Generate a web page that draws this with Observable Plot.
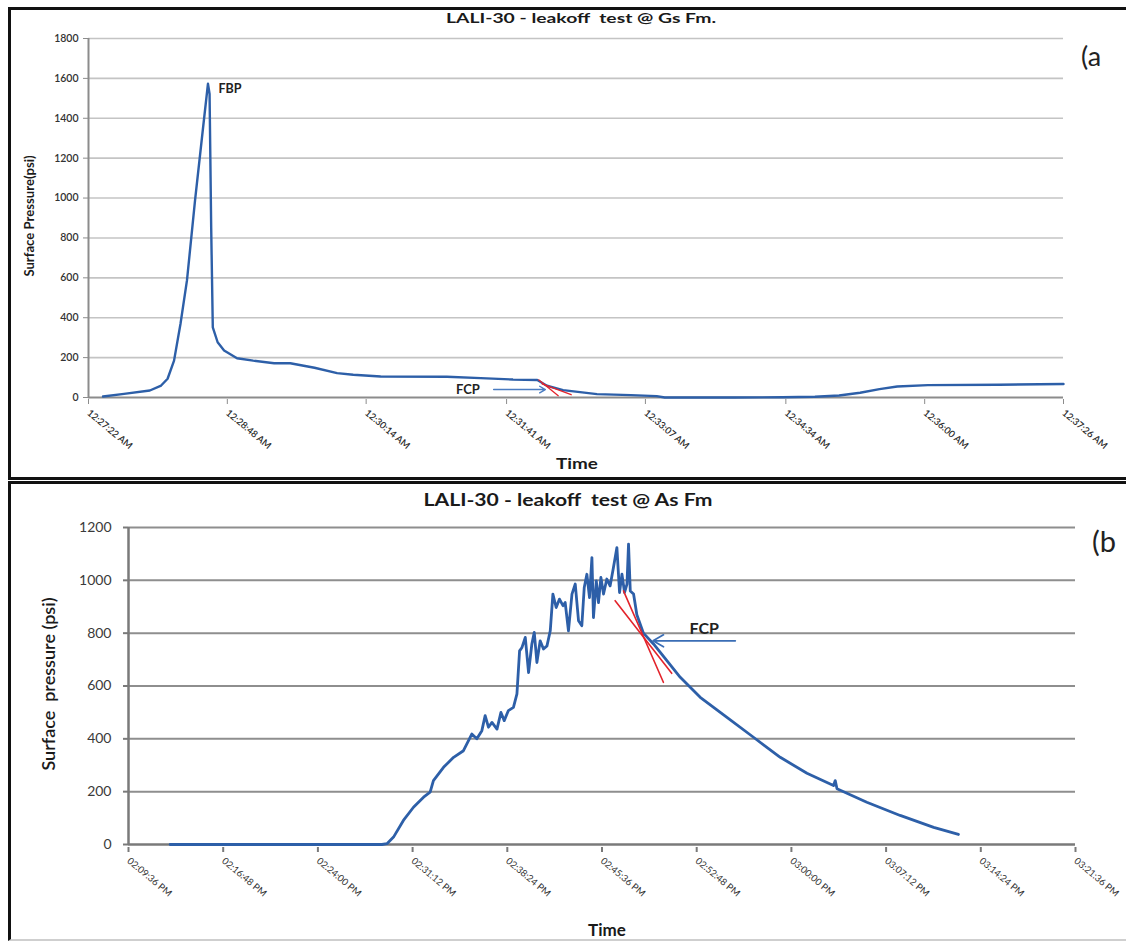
<!DOCTYPE html>
<html>
<head>
<meta charset="utf-8">
<script src="https://cdn.jsdelivr.net/npm/d3@7"></script>
<script src="https://cdn.jsdelivr.net/npm/@observablehq/plot@0.6"></script>
<style>
  html, body { margin: 0; padding: 0; background: #fff; }
  #page { position: relative; width: 1126px; height: 941px; overflow: hidden; background: #fff; font-family: Lato, "Open Sans", sans-serif; }
  .svgwrap { position: absolute; left: 0; }
  .frame { position: absolute; box-sizing: border-box; pointer-events: none; }
  .t { position: absolute; white-space: pre; transform: translate(-50%, -50%); color: #111; line-height: 1; }
</style>
</head>
<body>
<div id="page">
  <div class="svgwrap" id="chartA" style="top:0px"></div>
  <div class="svgwrap" id="chartB" style="top:482px"></div>
  <div class="frame" style="left:8px; top:7px; width:1130px; height:473px; border-top:3px solid #111; border-left:3px solid #111; border-bottom:3px solid #111;"></div>
  <div class="frame" style="left:8px; top:481px; width:1130px; height:460px; border-top:3px solid #111; border-left:3px solid #111; border-bottom:2px solid #cfcfcf;"></div>

  <div class="t" style="left:581px; top:18px; font-size:14px; font-weight:700; color:#1a1a1a; transform:translate(-50%,-50%) scaleX(1.38);">LALI-30 - leakoff  test @ Gs Fm.</div>
  <div class="t" style="left:1091px; top:55px; font-size:27px; font-weight:400; color:#222;">(a</div>
  <div class="t" style="left:30px; top:216px; font-size:12.5px; font-weight:700; transform:translate(-50%,-50%) rotate(-90deg) scaleX(1.05); color:#1a1a1a;">Surface Pressure(psi)</div>
  <div class="t" style="left:577px; top:464px; font-size:14.5px; font-weight:700; color:#1a1a1a; transform:translate(-50%,-50%) scaleX(1.3);">Time</div>

  <div class="t" style="left:568px; top:500px; font-size:16.5px; font-weight:700; color:#1a1a1a; transform:translate(-50%,-50%) scaleX(1.28);">LALI-30 - leakoff  test @ As Fm</div>
  <div class="t" style="left:1104px; top:540px; font-size:29px; font-weight:400; color:#222;">(b</div>
  <div class="t" style="left:48px; top:684px; font-size:18px; font-weight:600; transform:translate(-50%,-50%) rotate(-90deg); color:#1a1a1a;">Surface  pressure (psi)</div>
  <div class="t" style="left:607px; top:929px; font-size:17px; font-weight:700; color:#1a1a1a;">Time</div>
</div>
<script>
// ---------------- Panel (a) data: seconds since 12:27:22 AM, surface pressure (psi)
const timeA = [9, 22, 38, 45, 49, 53, 57, 61, 66, 71, 74, 75, 76, 77, 80, 84, 92, 102, 115, 125, 140, 154, 164, 181, 222, 243, 263, 278, 284, 294, 315, 336, 352, 357, 400, 430, 450, 465, 478, 490, 501, 520, 564, 604];
const pressA = [5, 18, 35, 60, 94, 185, 370, 587, 988, 1355, 1573, 1522, 854, 352, 277, 236, 197, 185, 172, 172, 149, 122, 114, 105, 104, 97, 90, 88, 59, 37, 17, 12, 7, 0, 0, 1, 4, 10, 24, 42, 55, 62, 64, 68];
const tickSecA = [0, 86, 172, 259, 345, 432, 518, 604];
const tickLabelA = ["12:27:22 AM", "12:28:48 AM", "12:30:14 AM", "12:31:41 AM", "12:33:07 AM", "12:34:34 AM", "12:36:00 AM", "12:37:26 AM"];
const yTicksA = [0, 200, 400, 600, 800, 1000, 1200, 1400, 1600, 1800];
// red tangent lines (a)
const tanA1 = {t: [279, 291], p: [88, 9]};
const tanA2 = {t: [281, 299], p: [68, 14]};
// annotations (a)
const fbpA = {t: 80.5, p: 1549, label: "FBP"};
const fcpA = {t: 235, p: 40, label: "FCP"};
const arrowA = {t1: 251, t2: 283, p: 40};

// ---------------- Panel (b) data: seconds since 02:09:36 PM, surface pressure (psi)
const timeB = [190, 1156, 1179, 1209, 1254, 1300, 1346, 1376, 1391, 1437, 1483, 1528, 1566, 1589, 1612, 1627, 1642, 1658, 1681, 1699, 1714, 1733, 1756, 1772, 1784, 1795, 1810, 1825, 1840, 1851, 1863, 1878, 1893, 1909, 1924, 1936, 1951, 1966, 1982, 1992, 2007, 2023, 2038, 2053, 2068, 2079, 2091, 2103, 2114, 2121, 2134, 2144, 2155, 2167, 2182, 2197, 2212, 2228, 2240, 2251, 2263, 2274, 2281, 2289, 2304, 2319, 2349, 2395, 2456, 2517, 2608, 2730, 2851, 2973, 3095, 3216, 3224, 3232, 3368, 3520, 3673, 3786];
const pressB = [0, 0, 3, 28, 91, 141, 179, 198, 242, 292, 330, 355, 418, 400, 431, 488, 444, 462, 437, 500, 469, 507, 519, 570, 733, 746, 784, 651, 759, 803, 689, 771, 740, 752, 809, 948, 897, 929, 904, 916, 809, 948, 986, 847, 828, 973, 1023, 935, 1086, 859, 998, 916, 1011, 948, 1005, 979, 1048, 1124, 954, 1023, 954, 986, 1137, 960, 948, 870, 800, 759, 696, 633, 557, 481, 406, 330, 270, 223, 242, 211, 160, 110, 65, 38];
const tickSecB = [0, 432, 864, 1296, 1728, 2160, 2592, 3024, 3456, 3888, 4320];
const tickLabelB = ["02:09:36 PM", "02:16:48 PM", "02:24:00 PM", "02:31:12 PM", "02:38:24 PM", "02:45:36 PM", "02:52:48 PM", "03:00:00 PM", "03:07:12 PM", "03:14:24 PM", "03:21:36 PM"];
const yTicksB = [0, 200, 400, 600, 800, 1000, 1200];
const tanB1 = {t: [2220, 2478], p: [923, 648]};
const tanB2 = {t: [2258, 2440], p: [960, 614]};
const fcpB = {t: 2626, p: 817, label: "FCP"};
const arrowB = {t1: 2768, t2: 2393, p: 771};

const BLUE = "#2d5fa8";
const RED = "#e3232b";

const rowsA = timeA.map((t, i) => ({t, p: pressA[i]}));
const rowsB = timeB.map((t, i) => ({t, p: pressB[i]}));
const toRows = o => o.t.map((t, i) => ({t, p: o.p[i]}));
const labelMapA = new Map(tickSecA.map((s, i) => [s, tickLabelA[i]]));
const labelMapB = new Map(tickSecB.map((s, i) => [s, tickLabelB[i]]));

const chartA = Plot.plot({
  width: 1126, height: 478,
  marginLeft: 88, marginRight: 63, marginTop: 38, marginBottom: 81,
  style: {background: "transparent", fontFamily: "Lato, sans-serif"},
  x: {domain: [0, 604]},
  y: {domain: [0, 1800]},
  marks: [
    Plot.gridY(yTicksA.filter(d => d > 0), {stroke: "#c4c4c4", strokeOpacity: 1, strokeWidth: 1.6}),
    Plot.ruleY([0], {stroke: "#8c8c8c", strokeWidth: 2}),
    Plot.ruleX([0], {stroke: "#8c8c8c", strokeWidth: 2}),
    Plot.axisY({ticks: yTicksA, tickSize: 5, tickPadding: 5, stroke: "#8c8c8c", fontSize: 10.5, fontWeight: 600, fill: "#333", label: null, tickFormat: d => String(d)}),
    Plot.axisX({ticks: tickSecA, tickSize: 5, stroke: "#8c8c8c", tickRotate: 40, textAnchor: "start", fontSize: 9.5, fontWeight: 600, fill: "#2a2a2a", label: null, dx: 0, dy: 2, tickFormat: d => labelMapA.get(d)}),
    Plot.line(rowsA, {x: "t", y: "p", stroke: BLUE, strokeWidth: 2.4, curve: "linear"}),
    Plot.line(toRows(tanA1), {x: "t", y: "p", stroke: RED, strokeWidth: 1.3}),
    Plot.line(toRows(tanA2), {x: "t", y: "p", stroke: RED, strokeWidth: 1.3}),
    Plot.text([fbpA], {x: "t", y: "p", text: "label", textAnchor: "start", fontSize: 12.5, fontWeight: "bold", fill: "#222"}),
    Plot.text([fcpA], {x: "t", y: "p", text: "label", textAnchor: "middle", fontSize: 13, fontWeight: "bold", fill: "#222"}),
    Plot.arrow([arrowA], {x1: "t1", x2: "t2", y1: "p", y2: "p", stroke: "#4a7cc2", strokeWidth: 1.4, headLength: 7})
  ]
});
document.getElementById("chartA").appendChild(chartA);

const chartB = Plot.plot({
  width: 1126, height: 459,
  marginLeft: 128, marginRight: 51, marginTop: 45, marginBottom: 97,
  style: {background: "transparent", fontFamily: "Lato, sans-serif"},
  x: {domain: [0, 4320]},
  y: {domain: [0, 1200]},
  marks: [
    Plot.gridY(yTicksB.filter(d => d > 0), {stroke: "#8e8e8e", strokeOpacity: 1, strokeWidth: 2}),
    Plot.ruleY([0], {stroke: "#7a7a7a", strokeWidth: 2.5}),
    Plot.ruleX([0], {stroke: "#7a7a7a", strokeWidth: 2.5}),
    Plot.axisY({ticks: yTicksB, tickSize: 5, tickPadding: 12, stroke: "#7a7a7a", strokeWidth: 2, fontSize: 14, fill: "#3a3a3a", label: null, tickFormat: d => String(d)}),
    Plot.axisX({ticks: tickSecB, tickSize: 5, stroke: "#7a7a7a", strokeWidth: 2, tickRotate: 40, textAnchor: "start", fontSize: 9.5, fill: "#333", label: null, dy: 3, tickFormat: d => labelMapB.get(d)}),
    Plot.line(rowsB, {x: "t", y: "p", stroke: BLUE, strokeWidth: 2.8, curve: "linear"}),
    Plot.line(toRows(tanB1), {x: "t", y: "p", stroke: RED, strokeWidth: 1.6}),
    Plot.line(toRows(tanB2), {x: "t", y: "p", stroke: RED, strokeWidth: 1.6}),
    Plot.text([fcpB], {x: "t", y: "p", text: "label", textAnchor: "middle", fontSize: 16, fontWeight: "bold", fill: "#222"}),
    Plot.arrow([arrowB], {x1: "t1", x2: "t2", y1: "p", y2: "p", stroke: "#3a6db5", strokeWidth: 1.8, headLength: 10})
  ]
});
document.getElementById("chartB").appendChild(chartB);
</script>
</body>
</html>
